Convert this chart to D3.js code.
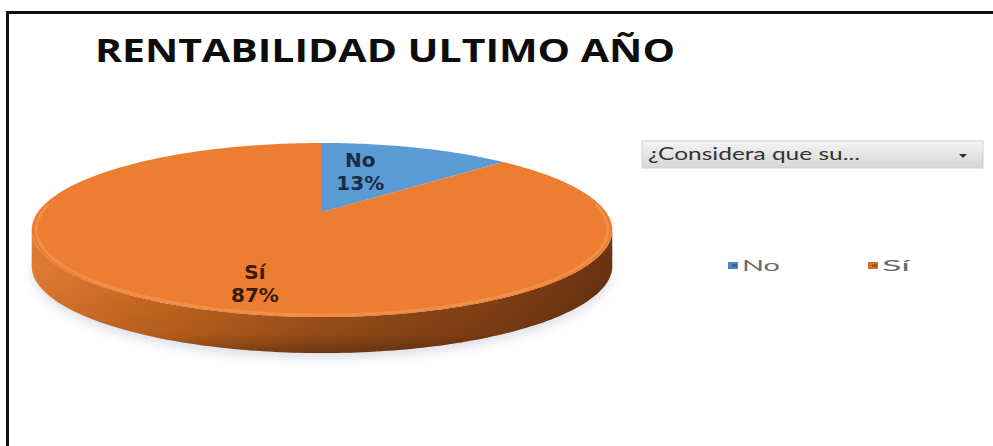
<!DOCTYPE html>
<html>
<head>
<meta charset="utf-8">
<script src="https://cdn.jsdelivr.net/npm/d3@7"></script>
<style>
  body { margin: 0; background: #fff; }
  svg { display: block; }
</style>
</head>
<body>
<div id="chart"></div>
<script>
"use strict";
// chart values
var categories = ["No", "Sí"];
var values = [13, 87];
var percentLabels = ["13%", "87%"];
var titleText = "RENTABILIDAD ULTIMO AÑO";
var filterText = "¿Considera que su...";

var w = 993,
  h = 446;

// 3d pie look (perspective tilt like the excel picture)
var cx = 322,
  cy = 212,
  A = 284, // horizontal scale
  B = 83.3, // vertical scale
  persp = 0.207,
  depth = 36;

var topColors = { "No": "#5B9BD5", "Sí": "#ED7D31" };
var labelColors = { "No": "#1c2b45", "Sí": "#3a1b08" };
var legendColors = { "No": "#4f86c0", "Sí": "#d5702c" };
//label radius as fraction of pie radius
var labelRadius = { "No": 0.565, "Sí": 0.755 };
//the picture is a bit stretched sideways, keep text widths close to it
var legendTextWidth = { "No": 38, "Sí": 28 };

var svg = d3
  .select("#chart")
  .append("svg")
  .attr("width", w)
  .attr("height", h);

var defs = svg.append("defs");

var sideGrad = defs
  .append("linearGradient")
  .attr("id", "sideGrad")
  .attr("gradientUnits", "userSpaceOnUse")
  .attr("x1", cx - A)
  .attr("x2", cx + A)
  .attr("y1", 0)
  .attr("y2", 0);
[
  [0, "#e27a31"],
  [0.25, "#c8671f"],
  [0.5, "#a5541b"],
  [0.8, "#874215"],
  [1, "#6a3311"]
].forEach(function(s) {
  sideGrad.append("stop").attr("offset", s[0]).attr("stop-color", s[1]);
});

var sideShade = defs
  .append("linearGradient")
  .attr("id", "sideShade")
  .attr("x1", 0)
  .attr("x2", 0)
  .attr("y1", 0)
  .attr("y2", 1);
sideShade.append("stop").attr("offset", 0).attr("stop-color", "#fff").attr("stop-opacity", 0.12);
sideShade.append("stop").attr("offset", 0.3).attr("stop-color", "#000").attr("stop-opacity", 0);
sideShade.append("stop").attr("offset", 0.85).attr("stop-color", "#000").attr("stop-opacity", 0.12);
sideShade.append("stop").attr("offset", 1).attr("stop-color", "#000").attr("stop-opacity", 0.35);

var boxGrad = defs
  .append("linearGradient")
  .attr("id", "boxGrad")
  .attr("x1", 0)
  .attr("x2", 0)
  .attr("y1", 0)
  .attr("y2", 1);
boxGrad.append("stop").attr("offset", 0).attr("stop-color", "#f4f4f4");
boxGrad.append("stop").attr("offset", 1).attr("stop-color", "#d6d6d6");

defs
  .append("filter")
  .attr("id", "blur")
  .attr("x", "-20%")
  .attr("y", "-50%")
  .attr("width", "140%")
  .attr("height", "200%")
  .append("feGaussianBlur")
  .attr("stdDeviation", 5);

// frame
svg
  .append("path")
  .attr("d", "M7.5," + h + "V12.5H" + w)
  .attr("fill", "none")
  .attr("stroke", "#111")
  .attr("stroke-width", 3);

// title
svg
  .append("text")
  .attr("x", 95)
  .attr("y", 62)
  .attr("textLength", 580)
  .attr("lengthAdjust", "spacingAndGlyphs")
  .style("font-family", "'Open Sans', 'Liberation Sans', sans-serif")
  .style("font-weight", "bold")
  .style("font-size", "32px")
  .style("fill", "#0d0d0d")
  .text(titleText);

//project a point of the pie disc on screen; theta clockwise from the far side
function proj(theta, r, drop) {
  var x = r * Math.sin(theta),
    z = r * Math.cos(theta);
  var d = 1 + persp * z;
  return [cx + (A * x) / d, cy - (B * z) / d + (drop || 0)];
}

function arcPoints(a0, a1, r, drop) {
  var pts = [];
  var n = Math.max(2, Math.ceil(((a1 - a0) * 180) / Math.PI));
  for (var i = 0; i <= n; i++) {
    pts.push(proj(a0 + ((a1 - a0) * i) / n, r, drop));
  }
  return pts;
}

var pie = d3
  .pie()
  .sort(null)
  .value(function(d) {
    return d.value;
  });

var arcs = pie(
  categories.map(function(c, i) {
    return { cat: c, value: values[i], pct: percentLabels[i] };
  })
);

var line = d3.line();

// soft shadow under the pie
var shadowPts = arcPoints(0, 2 * Math.PI, 1.0, depth + 6);
svg
  .append("path")
  .attr("d", line(shadowPts) + "Z")
  .attr("fill", "#b9c0cc")
  .attr("opacity", 0.45)
  .attr("filter", "url(#blur)");

// visible part of the side wall
var sideFrom = Math.acos(-persp),
  sideTo = 2 * Math.PI - sideFrom;

var pieG = svg.append("g");

arcs.forEach(function(a) {
  var s = Math.max(a.startAngle, sideFrom),
    e = Math.min(a.endAngle, sideTo);
  if (e <= s) return;
  var upper = arcPoints(s, e, 1, 0);
  var lower = arcPoints(s, e, 1, depth).reverse();
  var d = line(upper.concat(lower)) + "Z";
  pieG
    .append("path")
    .attr("d", d)
    .attr("fill", "url(#sideGrad)");
  pieG
    .append("path")
    .attr("d", d)
    .attr("fill", "url(#sideShade)");
});

// top faces
pieG
  .selectAll(".slice")
  .data(arcs)
  .enter()
  .append("path")
  .attr("class", "slice")
  .attr("d", function(a) {
    return line([proj(0, 0, 0)].concat(arcPoints(a.startAngle, a.endAngle, 1, 0))) + "Z";
  })
  .attr("fill", function(a) {
    return topColors[a.data.cat];
  });

// bevel highlight at the front rim
pieG
  .append("path")
  .attr("d", line(arcPoints(sideFrom - 0.3, sideTo + 0.3, 0.985, 0)))
  .attr("fill", "none")
  .attr("stroke", "#f6a463")
  .attr("stroke-opacity", 0.45)
  .attr("stroke-width", 3);

// data labels
var labels = svg
  .selectAll(".lbl")
  .data(arcs)
  .enter()
  .append("text")
  .attr("class", "lbl")
  .attr("text-anchor", "middle")
  .style("font-family", "'DejaVu Sans', Verdana, sans-serif")
  .style("font-weight", "bold")
  .style("font-size", "20px")
  .style("fill", function(a) {
    return labelColors[a.data.cat];
  })
  .attr("transform", function(a) {
    var mid = (a.startAngle + a.endAngle) / 2 - (8 * Math.PI) / 180;
    var p = proj(mid, labelRadius[a.data.cat], 0);
    return "translate(" + p[0] + "," + p[1] + ")";
  });

labels
  .append("tspan")
  .attr("x", 0)
  .attr("y", -4)
  .text(function(a) {
    return a.data.cat;
  });
labels
  .append("tspan")
  .attr("x", 0)
  .attr("y", 19)
  .text(function(a) {
    return a.data.pct;
  });

// field filter button
var box = svg.append("g").attr("transform", "translate(642,141)");
box
  .append("rect")
  .attr("width", 341)
  .attr("height", 27)
  .attr("fill", "url(#boxGrad)")
  .attr("stroke", "#cfcfcf");
box
  .append("text")
  .attr("x", 6)
  .attr("y", 19)
  .attr("textLength", 212)
  .attr("lengthAdjust", "spacingAndGlyphs")
  .style("font-family", "Lato, 'Open Sans', sans-serif")
  .style("font-size", "18px")
  .style("fill", "#333")
  .text(filterText);
box
  .append("path")
  .attr("d", "M317,13h8l-4,4z")
  .attr("fill", "#333");

// legend
var legendX = d3
  .scalePoint()
  .domain(categories)
  .range([728, 868]);

var legend = svg
  .selectAll(".legend")
  .data(categories)
  .enter()
  .append("g")
  .attr("class", "legend")
  .attr("transform", function(d) {
    return "translate(" + legendX(d) + ",262)";
  });

legend
  .append("rect")
  .attr("width", 10)
  .attr("height", 7)
  .attr("fill", function(d) {
    return legendColors[d];
  });
legend
  .append("rect")
  .attr("x", 4)
  .attr("y", 2)
  .attr("width", 5)
  .attr("height", 3)
  .attr("fill", "#000")
  .attr("opacity", 0.25);

legend
  .append("text")
  .attr("x", 14)
  .attr("y", 9)
  .attr("textLength", function(d) {
    return legendTextWidth[d];
  })
  .attr("lengthAdjust", "spacingAndGlyphs")
  .style("font-family", "Lato, 'Open Sans', sans-serif")
  .style("font-size", "16px")
  .style("fill", "#6a6a6a")
  .text(function(d) {
    return d;
  });
</script>
</body>
</html>
